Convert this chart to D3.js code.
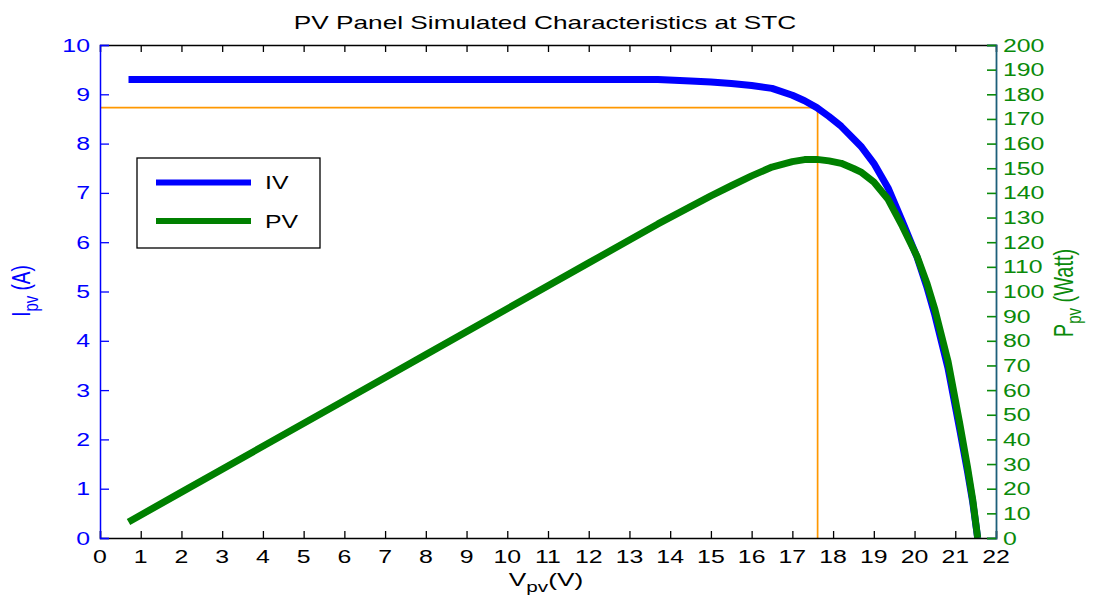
<!DOCTYPE html>
<html>
<head>
<meta charset="utf-8">
<script src="https://cdn.jsdelivr.net/npm/d3@7"></script>
<style>
  html, body { margin: 0; padding: 0; background: #fff; }
  svg { display: block; }
  text { font-family: "Liberation Sans", Arial, sans-serif; }
</style>
</head>
<body>
<svg id="chart" width="1097" height="603"></svg>
<script>
// Simulated PV panel characteristics at standard test conditions
const voltage = [0.7, 2, 4, 6, 8, 10, 12, 13, 13.7, 14.5, 15, 15.5, 16, 16.5, 17, 17.3, 17.6,
  17.9, 18.2, 18.5, 18.7, 19.0, 19.35, 19.7, 20.06, 20.3, 20.5, 20.82, 21.11, 21.3, 21.43, 21.55];
const current = [9.30, 9.30, 9.30, 9.30, 9.30, 9.30, 9.30, 9.30, 9.30, 9.27, 9.25, 9.22, 9.18, 9.12, 8.98, 8.87, 8.73,
  8.55, 8.35, 8.10, 7.93, 7.60, 7.10, 6.42, 5.70, 5.10, 4.52, 3.45, 2.20, 1.35, 0.72, 0.0];
const power = [6.5, 18.6, 37.2, 55.8, 74.4, 93.0, 111.6, 120.9, 127.4, 134.4, 138.8, 142.9, 146.9, 150.5, 152.7, 153.5, 153.6,
  153.0, 152.0, 149.9, 148.3, 144.4, 137.4, 126.5, 114.3, 103.5, 92.7, 71.8, 46.4, 28.8, 15.4, 0.0];

// maximum power point
const vmp = 17.62;
const imp = 8.73;

const xTicks = d3.range(0, 23, 1);
const iTicks = d3.range(0, 11, 1);
const pTicks = d3.range(0, 201, 10);

const legendItems = [
  { label: "IV", color: "#0000ff" },
  { label: "PV", color: "#008000" }
];

const m = { left: 100, right: 996, top: 45, bottom: 538 };
const sx = 1.38;          // horizontal text stretch
const font = 18;

const svg = d3.select("#chart");

const x = d3.scaleLinear().domain([0, 22]).range([m.left, m.right]);
const yI = d3.scaleLinear().domain([0, 10]).range([m.bottom, m.top]);
const yP = d3.scaleLinear().domain([0, 200]).range([m.bottom, m.top]);

function stext(g, px, py, str, opts = {}) {
  const t = g.append("text")
    .attr("transform", `translate(${px},${py}) scale(${sx},1)` + (opts.rotate ? ` rotate(${opts.rotate})` : ""))
    .attr("font-size", opts.size || font)
    .attr("fill", opts.fill || "#000")
    .attr("text-anchor", opts.anchor || "start");
  if (str !== null) t.text(str);
  return t;
}

// MPP guide lines
const guides = svg.append("g")
  .attr("stroke", "#ff9800").attr("stroke-width", 1.7);
guides.append("line")
  .attr("x1", x(0)).attr("x2", x(vmp))
  .attr("y1", yI(imp)).attr("y2", yI(imp));
guides.append("line")
  .attr("x1", x(vmp)).attr("x2", x(vmp))
  .attr("y1", yI(imp)).attr("y2", yI(0));

// Curves
const ivLine = d3.line().x((d, i) => x(voltage[i])).y(d => yI(d));
const pvLine = d3.line().x((d, i) => x(voltage[i])).y(d => yP(d));

svg.append("path").datum(current)
  .attr("d", ivLine)
  .attr("fill", "none").attr("stroke", "#0000ff").attr("stroke-width", 7)
  .attr("stroke-linejoin", "round");
svg.append("path").datum(power)
  .attr("d", pvLine)
  .attr("fill", "none").attr("stroke", "#008000").attr("stroke-width", 7)
  .attr("stroke-linejoin", "round");

// Axes
const axBottom = svg.append("g").attr("transform", `translate(0,${m.bottom})`)
  .call(d3.axisBottom(x).tickValues(xTicks).tickSize(-7).tickFormat(""));
axBottom.select(".domain").attr("stroke", "#000").attr("stroke-width", 1.5);
axBottom.selectAll(".tick line").attr("stroke", "#000").attr("stroke-width", 1.3);

const axTop = svg.append("g").attr("transform", `translate(0,${m.top})`)
  .call(d3.axisTop(x).tickValues(xTicks).tickSize(-7).tickFormat(""));
axTop.select(".domain").attr("stroke", "#000").attr("stroke-width", 1.3);
axTop.selectAll(".tick line").attr("stroke", "#000").attr("stroke-width", 1.3);

const axLeft = svg.append("g").attr("transform", `translate(${m.left},0)`)
  .call(d3.axisLeft(yI).tickValues(iTicks).tickSize(-9).tickFormat(""));
axLeft.select(".domain").attr("stroke", "#0000ff").attr("stroke-width", 1.5);
axLeft.selectAll(".tick line").attr("stroke", "#0000ff").attr("stroke-width", 1.3);

const axRight = svg.append("g").attr("transform", `translate(${m.right},0)`)
  .call(d3.axisRight(yP).tickValues(pTicks).tickSize(-9).tickFormat(""));
axRight.select(".domain").attr("stroke", "#1d5f7a").attr("stroke-width", 1.8);
axRight.selectAll(".tick line").attr("stroke", "#0a8a0a").attr("stroke-width", 1.6);

// Tick labels
const labels = svg.append("g");
xTicks.forEach(v => stext(labels, x(v), 563, String(v), { anchor: "middle" }));
iTicks.forEach(v => stext(labels, 90, yI(v) + 6.5, String(v), { anchor: "end", fill: "#0000ff" }));
pTicks.forEach(v => stext(labels, 1003, yP(v) + 6.5, String(v), { fill: "#0a8a0a" }));

// Title
stext(svg, 545, 29, "PV Panel Simulated Characteristics at STC", { anchor: "middle", size: 19 });

// X label with subscript
const xl = stext(svg, 546, 586, null, { anchor: "middle", size: 19 });
xl.append("tspan").text("V");
xl.append("tspan").attr("font-size", 15).attr("dy", 6).text("pv");
xl.append("tspan").attr("dy", -6).text("(V)");

// Left Y label
const yl = stext(svg, 30, 291, null, { anchor: "middle", fill: "#0000ff", rotate: -90, size: 19 });
yl.append("tspan").text("I");
yl.append("tspan").attr("font-size", 15).attr("dy", 6).text("pv");
yl.append("tspan").attr("dy", -6).text(" (A)");

// Right Y label
const pl = stext(svg, 1073, 293, null, { anchor: "middle", fill: "#0a8a0a", rotate: -90, size: 20 });
pl.append("tspan").text("P");
pl.append("tspan").attr("font-size", 15).attr("dy", 6).text("pv");
pl.append("tspan").attr("dy", -6).text(" (Watt)");

// Legend
const lg = svg.append("g");
lg.append("rect")
  .attr("x", 137).attr("y", 158).attr("width", 183).attr("height", 90)
  .attr("fill", "#fff").attr("stroke", "#000").attr("stroke-width", 1.3);
legendItems.forEach((d, i) => {
  const ly = 182.5 + i * 38.5;
  lg.append("line")
    .attr("x1", 156).attr("x2", 251).attr("y1", ly).attr("y2", ly)
    .attr("stroke", d.color).attr("stroke-width", 6);
  stext(lg, 265, ly + 6.5, d.label);
});
</script>
</body>
</html>
